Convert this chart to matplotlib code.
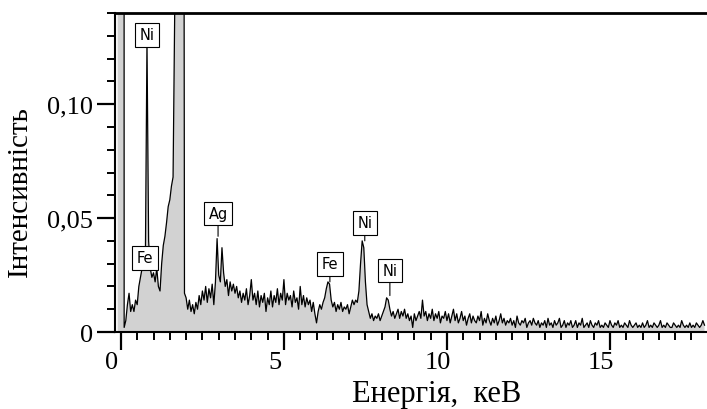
import numpy as np
import matplotlib.pyplot as plt
import matplotlib.transforms as mtransforms

plt.rcParams["font.family"] = ["Liberation Serif", "DejaVu Serif"]

# EDX spectrum, intensity in units of 0.001, sampled every 0.05 keV from -0.10 keV
counts_milli = [
    5000, 5000,
    5000, 5000, 2, 5, 12, 17, 9, 12, 9, 14, 12, 20, 24, 28, 33, 30, 128, 40, 28, 24,     # 0-1 keV
    26, 22, 28, 20, 18, 30, 38, 42, 48, 55, 58, 64, 68, 140, 900, 2000, 2500, 1500, 600, 17,  # 1-2
    15, 10, 14, 9, 12, 8, 13, 10, 16, 12, 18, 14, 20, 13, 19, 15, 21, 12, 22, 41,     # 2-3
    25, 22, 37, 26, 20, 23, 16, 22, 18, 21, 17, 20, 15, 18, 13, 17, 14, 19, 12, 16,   # 3-4
    23, 14, 17, 12, 18, 11, 16, 13, 17, 9, 15, 12, 18, 11, 16, 13, 19, 12, 17, 14,    # 4-5
    23, 12, 17, 14, 16, 11, 18, 13, 15, 10, 20, 12, 16, 11, 15, 12, 14, 9, 13, 8,     # 5-6
    4, 9, 12, 10, 13, 15, 19, 22, 21, 14, 11, 13, 9, 12, 10, 13, 9, 11, 10, 12,       # 6-7
    8, 11, 14, 12, 14, 13, 18, 30, 40, 37, 22, 12, 9, 6, 8, 5, 7, 6, 8, 5,            # 7-8
    7, 9, 11, 15, 14, 10, 7, 9, 6, 8, 10, 6, 9, 7, 10, 6, 8, 5, 7, 2,                 # 8-9
    8, 5, 7, 9, 6, 14, 7, 9, 5, 8, 6, 10, 5, 8, 6, 9, 4, 7, 6, 9,                     # 9-10
    5, 8, 4, 7, 10, 5, 8, 4, 6, 9, 5, 7, 3, 6, 8, 4, 7, 5, 4, 7,                      # 10-11
    5, 9, 3, 6, 4, 8, 5, 3, 6, 4, 7, 3, 5, 8, 4, 6, 3, 5, 4, 6,                       # 11-12
    3, 5, 2, 7, 4, 3, 5, 4, 6, 2, 4, 5, 3, 6, 4, 3, 5, 2, 4, 3,                       # 12-13
    5, 2, 6, 3, 4, 2, 5, 3, 4, 6, 2, 3, 5, 2, 4, 3, 5, 2, 3, 5,                       # 13-14
    2, 4, 3, 6, 2, 3, 4, 2, 5, 3, 2, 4, 3, 5, 2, 3, 2, 4, 3, 2,                       # 14-15
    5, 3, 2, 4, 3, 5, 2, 3, 2, 4, 3, 2, 5, 3, 2, 3, 4, 2, 3, 2,                       # 15-16
    4, 2, 3, 5, 2, 3, 2, 4, 3, 2, 3, 5, 2, 3, 2, 4, 3, 2, 2, 4,                       # 16-17
    3, 2, 3, 2, 5, 3, 2, 3, 2, 4, 2, 3, 2, 4, 3, 2, 3, 5, 3,                          # 17-18
]
intensity = np.array(counts_milli) / 1000.0
energy = np.linspace(-0.10, -0.10 + 0.05 * (len(intensity) - 1), len(intensity))

# peak labels: text, peak energy, peak top, label height
peak_names = ["Ni", "Fe", "Ag", "Fe", "Ni", "Ni"]
peak_e     = [0.80, 0.74, 2.98, 6.41, 7.48, 8.25]
peak_top   = [0.127, 0.027, 0.042, 0.022, 0.040, 0.016]
label_y    = [0.1305, 0.0325, 0.052, 0.030, 0.048, 0.027]

fig = plt.figure(figsize=(7.07, 4.10), dpi=100)
ax = fig.add_axes([0.1627, 0.1878, 0.837, 0.778])

ax.fill_between(energy, 0, intensity, color="#d2d2d2", lw=0)
ax.plot(energy, intensity, color="black", lw=0.9)

ax.set_xlim(-0.18, 17.97)
ax.set_ylim(0, 0.1375)

for name, e, top, ly in zip(peak_names, peak_e, peak_top, label_y):
    ax.annotate(name, xy=(e, top), xytext=(e, ly),
                ha="center", va="center", fontsize=10.5, family="DejaVu Sans",
                bbox=dict(boxstyle="square,pad=0.3", fc="white", ec="black", lw=0.8),
                arrowprops=dict(arrowstyle="-", color="black", lw=0.8,
                                shrinkA=0, shrinkB=0))

ax.set_xticks([0, 5, 10, 15])
ax.set_xticks(np.arange(0, 18, 0.5), minor=True)
ax.set_yticks([0, 0.05, 0.10])
ax.set_yticklabels(["0", "0,05", "0,10"])
ax.set_yticks(np.arange(0, 0.14, 0.01), minor=True)

ax.tick_params(which="major", direction="out", length=13, width=1.6,
               labelsize=19, pad=1)
ax.tick_params(which="minor", direction="out", length=6, width=1.4)
ax.tick_params(axis="y", which="major", pad=3)
ax.tick_params(top=False, right=False, which="both")

# x tick labels sit a little left of their ticks in the original
offset = mtransforms.ScaledTranslation(-0.09, 0, fig.dpi_scale_trans)
for lab in ax.get_xticklabels():
    lab.set_transform(lab.get_transform() + offset)

ax.spines["right"].set_visible(False)
ax.spines["top"].set_linewidth(2.0)
ax.spines["left"].set_linewidth(1.5)
ax.spines["bottom"].set_linewidth(1.5)

ax.set_xlabel("Енергія,  кеВ", fontsize=22)
ax.set_ylabel("Інтенсивність", fontsize=21)
ax.xaxis.set_label_coords(0.544, -0.148)
ax.yaxis.set_label_coords(-0.138, 0.442)

plt.savefig("out.png", dpi=100)
